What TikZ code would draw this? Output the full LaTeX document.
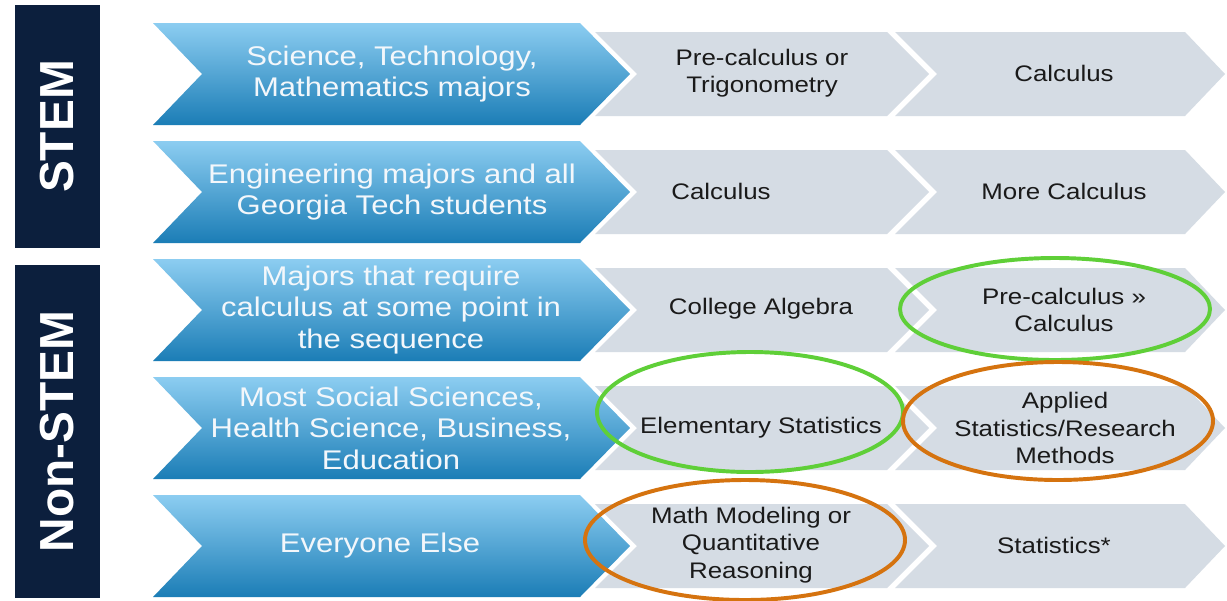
\documentclass[tikz,border=0pt]{standalone}
\usepackage{fontspec}
\setmainfont{Liberation Sans}
\newfontfamily\chevfont[FakeStretch=1.15]{Liberation Sans}
\usetikzlibrary{positioning}

\definecolor{navy}{HTML}{0C1F3D}
\definecolor{chevtop}{HTML}{8CCDF1}
\definecolor{chevmid}{HTML}{4FA9DC}
\definecolor{chevbot}{HTML}{1B7DB6}
\definecolor{chevgray}{HTML}{D5DCE4}
\definecolor{majortext}{HTML}{F3F7FB}
\definecolor{coursetext}{HTML}{1A1A1A}
\definecolor{ringgreen}{HTML}{5FCF38}
\definecolor{ringorange}{HTML}{D5730F}

\begin{document}
\begin{tikzpicture}[
    x=0.025cm, y=-0.025cm,
    groupbox/.style={fill=navy},
    grouplabel/.style={text=white, rotate=90, font=\fontsize{34}{34}\selectfont\bfseries},
    bluechev/.style={top color=chevtop, middle color=chevmid, bottom color=chevbot},
    graychev/.style={fill=chevgray},
    major/.style={text=majortext, align=center, font=\chevfont\fontsize{19.2}{22.4}\selectfont},
    course/.style={text=coursetext, align=center, font=\chevfont\fontsize{16}{19.6}\selectfont},
    greenring/.style={draw=ringgreen, line width=2.8pt},
    orangering/.style={draw=ringorange, line width=2.8pt}
]
\useasboundingbox[fill=white] (0,0) rectangle (1227,600);

% group bars
\fill[groupbox] (15,5) rectangle (100,248);
\fill[groupbox] (15,265) rectangle (100,598);
\node[grouplabel] (stemgrp) at (57.5,126.5) {STEM};
\node[grouplabel] (nonstemgrp) at (57.5,431.5) {Non-STEM};

% chevrons, one row each
\foreach \c in {74,192,310,428,546} {
  \fill[graychev] (895,{\c-42}) -- (1185,{\c-42}) -- (1225,\c) -- (1185,{\c+42})
    -- (895,{\c+42}) -- (937,\c) -- cycle;
  \fill[graychev] (595,{\c-42}) -- (887,{\c-42}) -- (929,\c) -- (887,{\c+42})
    -- (595,{\c+42}) -- (637,\c) -- cycle;
  \shade[bluechev] (153,{\c-51}) -- (580,{\c-51}) -- (630,\c) -- (580,{\c+51})
    -- (153,{\c+51}) -- (202,\c) -- cycle;
}

\node[major] (sci) at (392,74) {Science, Technology,\\Mathematics majors};
\node[major] (eng) at (392,192) {Engineering majors and all\\Georgia Tech students};
\node[major] (calcreq) at (391,310) {Majors that require\\calculus at some point in\\the sequence};
\node[major] (social) at (391,428) {Most Social Sciences,\\Health Science, Business,\\Education};
\node[major] (everyone) at (380,546) {Everyone Else};

\node[course] (precalctrig) at (762,73) {Pre-calculus or\\Trigonometry};
\node[course] (calc1) at (1064,73) {Calculus};
\node[course] (calc2) at (721,191) {Calculus};
\node[course] (morecalc) at (1064,191) {More Calculus};
\node[course] (collalg) at (761,309) {College Algebra};
\node[course] (precalccalc) at (1064,310) {Pre-calculus »\\Calculus};
\node[course] (elemstat) at (761,428) {Elementary Statistics};
\node[course] (appstat) at (1065,428) {Applied\\Statistics/Research\\Methods};
\node[course] (mathmod) at (751,545) {Math Modeling or\\Quantitative\\Reasoning};
\node[course] (stats) at (1054,545) {Statistics*};

% highlight rings
\draw[greenring] ([shift={(-9,-1)}]precalccalc.center) ellipse [x radius=155, y radius=51];
\draw[greenring] ([shift={(-11,-16)}]elemstat.center) ellipse [x radius=153, y radius=60];
\draw[orangering] ([shift={(-7,-7)}]appstat.center) ellipse [x radius=155, y radius=59];
\draw[orangering] ([shift={(-6,-5)}]mathmod.center) ellipse [x radius=160, y radius=60];
\end{tikzpicture}
\end{document}
